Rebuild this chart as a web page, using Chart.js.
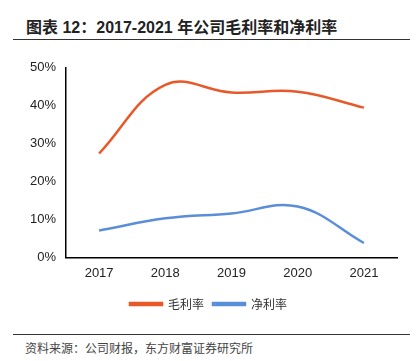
<!DOCTYPE html>
<html>
<head>
<meta charset="utf-8">
<script src="https://cdn.jsdelivr.net/npm/chart.js@4"></script>
<style>
  body { margin: 0; width: 418px; height: 361px; background: #fff; position: relative; overflow: hidden; font-family: "Liberation Sans", "Noto Sans CJK SC", sans-serif; }
  .title { position: absolute; left: 26px; top: 14px; font-size: 16px; font-weight: bold; color: #222; font-family: "Liberation Sans", "Noto Sans CJK SC", sans-serif; }
  .rule { position: absolute; left: 13px; width: 397px; height: 1px; background: #333; }
  .source { position: absolute; left: 25px; top: 339px; font-size: 12px; color: #444; font-family: "Noto Sans CJK SC", sans-serif; }
  .wrap { position: absolute; left: 0; top: 50px; width: 418px; height: 270px; }
</style>
</head>
<body>
<div class="title">图表 12：2017-2021 年公司毛利率和净利率</div>
<div class="rule" style="top:39px"></div>
<div class="wrap"><canvas id="chart"></canvas></div>
<div class="rule" style="top:334px"></div>
<div class="source">资料来源：公司财报，东方财富证券研究所</div>
<script>
const years = ['2017', '2018', '2019', '2020', '2021'];
const grossMargin = [27.4, 45.5, 43.5, 43.7, 39.5];
const netMargin = [7.1, 10.3, 11.6, 13.4, 3.8];
const yTicks = [0, 10, 20, 30, 40, 50];

const ctx = document.getElementById('chart');

new Chart(ctx, {
  type: 'line',
  data: {
    labels: years,
    datasets: [
      {
        label: '毛利率',
        data: grossMargin,
        borderColor: '#E8592A',
        backgroundColor: '#E8592A',
        borderWidth: 2.5,
        pointRadius: 0,
        tension: 0.4,
      },
      {
        label: '净利率',
        data: netMargin,
        borderColor: '#5B8ED8',
        backgroundColor: '#5B8ED8',
        borderWidth: 2.5,
        pointRadius: 0,
        tension: 0.4,
      },
    ],
  },
  options: {
    responsive: true,
    maintainAspectRatio: false,
    animation: false,
    layout: { padding: { left: 20, right: 21, top: 10, bottom: 0 } },
    plugins: {
      legend: {
        position: 'bottom',
        labels: {
          boxWidth: 32,
          boxHeight: 2,
          padding: 9,
          color: '#333',
          font: { family: 'Noto Sans CJK SC', size: 12 },
        },
      },
      tooltip: { enabled: false },
    },
    scales: {
      x: {
        offset: true,
        grid: { display: false, drawTicks: false },
        border: { color: '#000', width: 1.5 },
        ticks: { color: '#222', padding: 8, font: { family: 'Liberation Sans', size: 13 } },
      },
      y: {
        min: yTicks[0],
        max: yTicks[yTicks.length - 1],
        afterBuildTicks: (axis) => { axis.ticks = yTicks.map((v) => ({ value: v })); },
        grid: { display: false, drawTicks: false },
        border: { color: '#000', width: 1.5 },
        ticks: {
          color: '#222',
          padding: 10,
          font: { family: 'Liberation Sans', size: 13 },
          callback: (v) => v + '%',
        },
      },
    },
  },
});
</script>
</body>
</html>
